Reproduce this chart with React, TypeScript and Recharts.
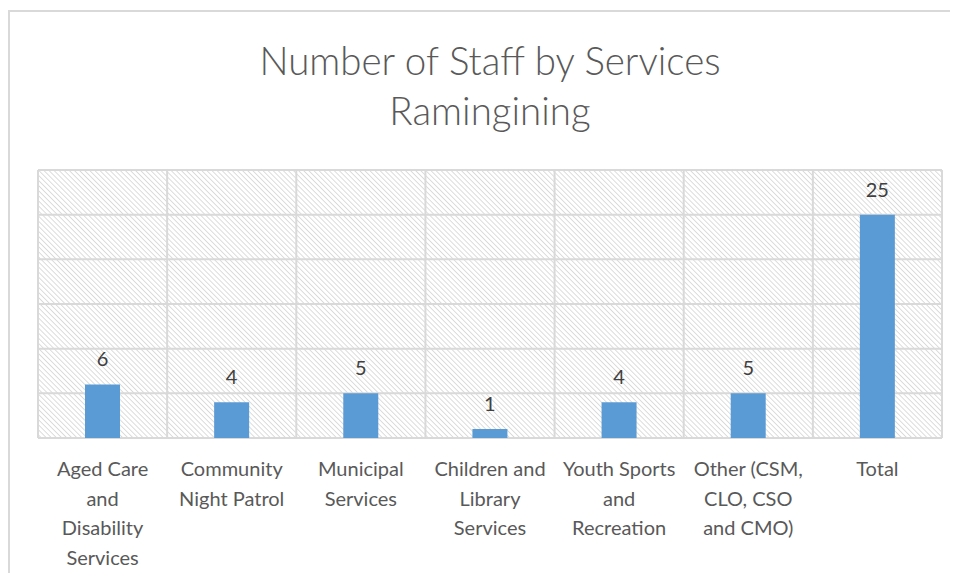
import React from 'react'
import { BarChart, Bar, XAxis, YAxis, CartesianGrid, LabelList } from 'recharts'

const categories = [
  'Aged Care and Disability Services',
  'Community Night Patrol',
  'Municipal Services',
  'Children and Library Services',
  'Youth Sports and Recreation',
  'Other (CSM, CLO, CSO and CMO)',
  'Total',
]
const staff = [6, 4, 5, 1, 4, 5, 25]
const tickLines = [
  ['Aged Care', 'and', 'Disability', 'Services'],
  ['Community', 'Night Patrol'],
  ['Municipal', 'Services'],
  ['Children and', 'Library', 'Services'],
  ['Youth Sports', 'and', 'Recreation'],
  ['Other (CSM,', 'CLO, CSO', 'and CMO)'],
  ['Total'],
]
const yTicks = [0, 5, 10, 15, 20, 25, 30]
const titleLines = ['Number of Staff by Services', 'Ramingining']

const data = categories.map((c, i) => ({ name: c, value: staff[i] }))

const FONT = 'Lato, "Liberation Sans", sans-serif'

function CatTick(props: any) {
  const { x, y, payload } = props
  const lines = tickLines[payload.index] || [payload.value]
  return (
    <text x={x} y={y} textAnchor="middle" fill="#595959" fontSize={20} fontFamily={FONT}>
      {lines.map((l: string, i: number) => (
        <tspan key={i} x={x} dy={i === 0 ? 38 : 29.5}>
          {l}
        </tspan>
      ))}
    </text>
  )
}

export default function App() {
  const w = 958
  const h = 581
  return (
    <div style={{ position: 'relative', width: w, height: h, margin: -8, overflow: 'hidden', background: '#fff' }}>
      <div
        style={{
          position: 'absolute',
          left: 8,
          top: 10,
          width: 1000,
          height: 1000,
          borderTop: '2px solid #d9d9d9',
          borderLeft: '2px solid #d9d9d9',
        }}
      />
      <div
        style={{
          position: 'absolute',
          left: 38,
          width: 904,
          top: 35,
          textAlign: 'center',
          fontFamily: FONT,
          fontSize: 38.5,
          fontWeight: 300,
          lineHeight: '50px',
          color: '#595959',
        }}
      >
        {titleLines.map((t) => (
          <div key={t}>{t}</div>
        ))}
      </div>
      <div style={{ position: 'absolute', left: 0, top: 0 }}>
        <BarChart width={w} height={h} data={data} margin={{ top: 170, right: 16, bottom: 113, left: 38 }}>
          <defs>
            <pattern id="hatch" width="3.6" height="3.6" patternUnits="userSpaceOnUse" patternTransform="rotate(-45)">
              <line x1="0" y1="0" x2="0" y2="3.6" stroke="#d2d2d2" strokeWidth="1.5" />
            </pattern>
          </defs>
          <CartesianGrid
            fill="url(#hatch)"
            fillOpacity={1}
            stroke="#d9d9d9"
            strokeWidth={2}
            verticalCoordinatesGenerator={({ offset }: any) =>
              categories.map((_, i) => offset.left + (i * offset.width) / categories.length).concat(offset.left + offset.width)
            }
          />
          <XAxis dataKey="name" height={30} axisLine={false} tickLine={false} interval={0} tick={<CatTick />} tickMargin={0} tickSize={0} />
          <YAxis hide domain={[0, 30]} ticks={yTicks} />
          <Bar dataKey="value" fill="#5b9bd5" barSize={35} isAnimationActive={false}>
            <LabelList dataKey="value" position="top" offset={18} fill="#404040" fontSize={20} fontFamily={FONT} />
          </Bar>
        </BarChart>
      </div>
    </div>
  )
}
